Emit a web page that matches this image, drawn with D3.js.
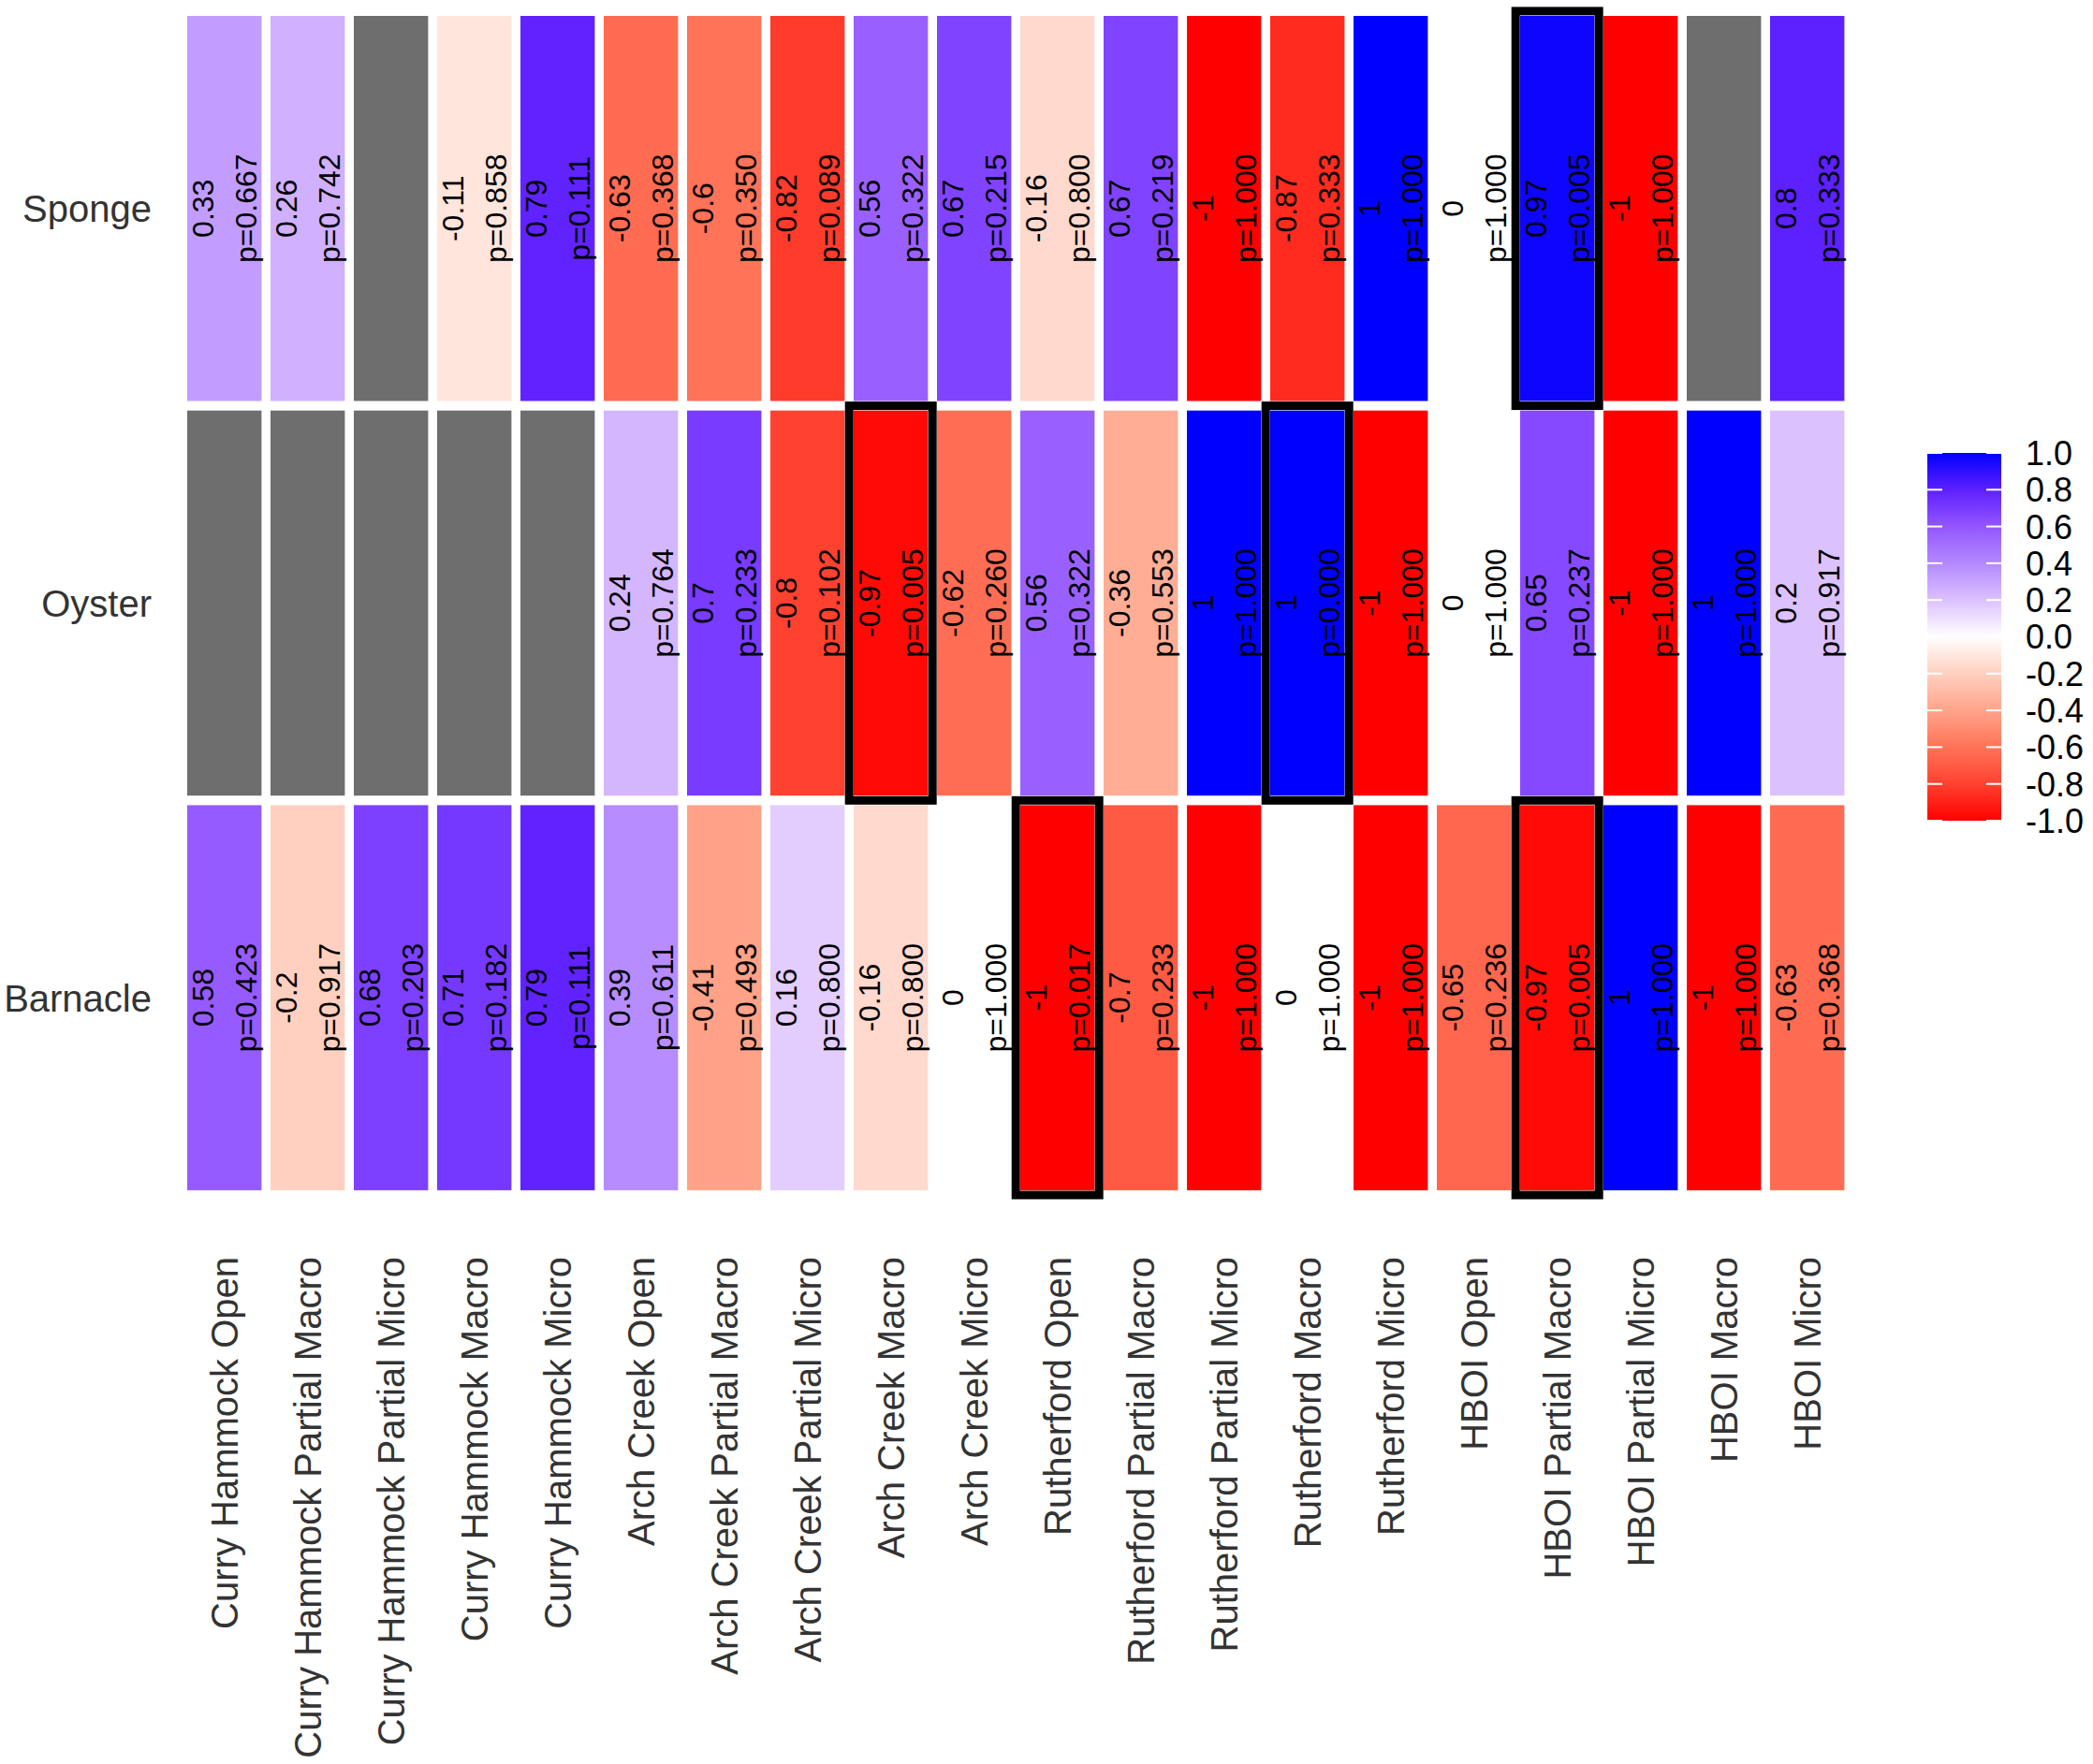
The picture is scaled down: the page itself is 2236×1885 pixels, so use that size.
<!DOCTYPE html>
<html>
<head>
<meta charset="utf-8">
<script src="https://cdn.jsdelivr.net/npm/d3@7"></script>
<style>
  html, body { margin: 0; padding: 0; background: #ffffff; }
  svg { display: block; font-family: "Liberation Sans", Arial, Helvetica, sans-serif; }
</style>
</head>
<body>
<svg id="chart" width="2236" height="1885"></svg>
<script>
// ---------------- data ----------------
const columns = [
  "Curry Hammock Open", "Curry Hammock Partial Macro", "Curry Hammock Partial Micro",
  "Curry Hammock Macro", "Curry Hammock Micro",
  "Arch Creek Open", "Arch Creek Partial Macro", "Arch Creek Partial Micro",
  "Arch Creek Macro", "Arch Creek Micro",
  "Rutherford Open", "Rutherford Partial Macro", "Rutherford Partial Micro",
  "Rutherford Macro", "Rutherford Micro",
  "HBOI Open", "HBOI Partial Macro", "HBOI Partial Micro", "HBOI Macro", "HBOI Micro"
];
const rows = ["Sponge", "Oyster", "Barnacle"];

const spongeR   = [0.33, 0.26, null, -0.11, 0.79, -0.63, -0.6, -0.82, 0.56, 0.67, -0.16, 0.67, -1, -0.87, 1, 0, 0.97, -1, null, 0.8];
const spongeP   = [0.667, 0.742, null, 0.858, 0.111, 0.368, 0.350, 0.089, 0.322, 0.215, 0.800, 0.219, 1.000, 0.333, 1.000, 1.000, 0.005, 1.000, null, 0.333];
const oysterR   = [null, null, null, null, null, 0.24, 0.7, -0.8, -0.97, -0.62, 0.56, -0.36, 1, 1, -1, 0, 0.65, -1, 1, 0.2];
const oysterP   = [null, null, null, null, null, 0.764, 0.233, 0.102, 0.005, 0.260, 0.322, 0.553, 1.000, 0.000, 1.000, 1.000, 0.237, 1.000, 1.000, 0.917];
const barnacleR = [0.58, -0.2, 0.68, 0.71, 0.79, 0.39, -0.41, 0.16, -0.16, 0, -1, -0.7, -1, 0, -1, -0.65, -0.97, 1, -1, -0.63];
const barnacleP = [0.423, 0.917, 0.203, 0.182, 0.111, 0.611, 0.493, 0.800, 0.800, 1.000, 0.017, 0.233, 1.000, 1.000, 1.000, 0.236, 0.005, 1.000, 1.000, 0.368];

const legendTicks = [1.0, 0.8, 0.6, 0.4, 0.2, 0.0, -0.2, -0.4, -0.6, -0.8, -1.0];
const sigLevel = 0.05;

// colour ramp stops (style): red - white - blue diverging palette
const rampDomain = [-1, -0.8, -0.6, -0.4, -0.2, 0, 0.2, 0.4, 0.6, 0.8, 1];
const rampColors = ["#ff0000", "#ff4230", "#ff7358", "#ffa48a", "#ffd0c0", "#ffffff",
                    "#dcc1ff", "#b489ff", "#9356ff", "#5d20ff", "#0000ff"];

// ---------------- build table ----------------
const rValues = [spongeR, oysterR, barnacleR];
const pValues = [spongeP, oysterP, barnacleP];
const cells = [];
rows.forEach((rw, ri) => {
  columns.forEach((c, ci) => {
    cells.push({ row: rw, col: c, r: rValues[ri][ci], p: pValues[ri][ci] });
  });
});

// ---------------- scales ----------------
const svg = d3.select("#chart");
const x = d3.scaleBand().domain(columns).range([195.2, 1975.2]).padding(0);
const y = d3.scaleBand().domain(rows).range([11.9, 1277]).padding(0);
const color = d3.scaleLinear().domain(rampDomain).range(rampColors).interpolate(d3.interpolateRgb).clamp(true);
const naColor = "#6e6e6e";
const insetX = 4.8, insetY = 5.1;

// ---------------- tiles ----------------
const gTiles = svg.append("g");
gTiles.selectAll("rect").data(cells).join("rect")
  .attr("x", d => x(d.col) + insetX)
  .attr("y", d => y(d.row) + insetY)
  .attr("width", x.bandwidth() - 2 * insetX)
  .attr("height", y.bandwidth() - 2 * insetY)
  .attr("fill", d => d.r === null ? naColor : color(d.r));

// ---------------- cell labels ----------------
const fmtR = v => String(v);
const gLab = svg.append("g").attr("font-size", 32).attr("fill", "#000");
const labeled = cells.filter(d => d.r !== null);
const lab = gLab.selectAll("text").data(labeled).join("text")
  .attr("text-anchor", "middle")
  .attr("transform", d => `translate(${x(d.col) + x.bandwidth() / 2},${y(d.row) + y.bandwidth() / 2}) rotate(-90)`);
lab.append("tspan").attr("x", 0).attr("y", -11.8).text(d => fmtR(d.r));
lab.append("tspan").attr("x", 0).attr("y", 34.8).text(d => "p=" + d.p.toFixed(3));

// ---------------- significance boxes ----------------
const sig = cells.filter(d => d.p !== null && d.p < sigLevel);
svg.append("g").selectAll("rect").data(sig).join("rect")
  .attr("x", d => x(d.col))
  .attr("y", d => y(d.row))
  .attr("width", x.bandwidth())
  .attr("height", y.bandwidth())
  .attr("fill", "none")
  .attr("stroke", "#000")
  .attr("stroke-width", 9);

// ---------------- axes ----------------
const axisColor = "#333333";
const gY = svg.append("g").attr("font-size", 40).attr("fill", axisColor);
gY.selectAll("text").data(rows).join("text")
  .attr("x", 162)
  .attr("y", d => y(d) + y.bandwidth() / 2)
  .attr("dy", "0.36em")
  .attr("text-anchor", "end")
  .text(d => d);

const gX = svg.append("g").attr("font-size", 40).attr("fill", axisColor);
gX.selectAll("text").data(columns).join("text")
  .attr("text-anchor", "end")
  .attr("transform", d => `translate(${x(d) + x.bandwidth() / 2},1343) rotate(-90)`)
  .attr("dy", "0.36em")
  .text(d => d);

// ---------------- legend ----------------
const lgX = 2059, lgW = 79;
const ly = d3.scaleLinear().domain([1, -1]).range([484, 877]);
const defs = svg.append("defs");
const grad = defs.append("linearGradient").attr("id", "lg")
  .attr("x1", 0).attr("y1", 0).attr("x2", 0).attr("y2", 1);
d3.range(0, 81).forEach(i => {
  const v = 1 - i / 40;
  grad.append("stop").attr("offset", (i / 80 * 100) + "%").attr("stop-color", color(v));
});
svg.append("rect")
  .attr("x", lgX).attr("y", ly(1))
  .attr("width", lgW).attr("height", ly(-1) - ly(1))
  .attr("fill", "url(#lg)");
const gTick = svg.append("g").attr("stroke", "#ffffff").attr("stroke-width", 2);
legendTicks.forEach(t => {
  gTick.append("line").attr("x1", lgX).attr("x2", lgX + 16).attr("y1", ly(t)).attr("y2", ly(t));
  gTick.append("line").attr("x1", lgX + lgW - 16).attr("x2", lgX + lgW).attr("y1", ly(t)).attr("y2", ly(t));
});
svg.append("g").attr("font-size", 36).attr("fill", "#000")
  .selectAll("text").data(legendTicks).join("text")
  .attr("x", 2164)
  .attr("y", d => ly(d))
  .attr("dy", "0.36em")
  .text(d => d3.format(".1f")(d).replace("−", "-"));
</script>
</body>
</html>
